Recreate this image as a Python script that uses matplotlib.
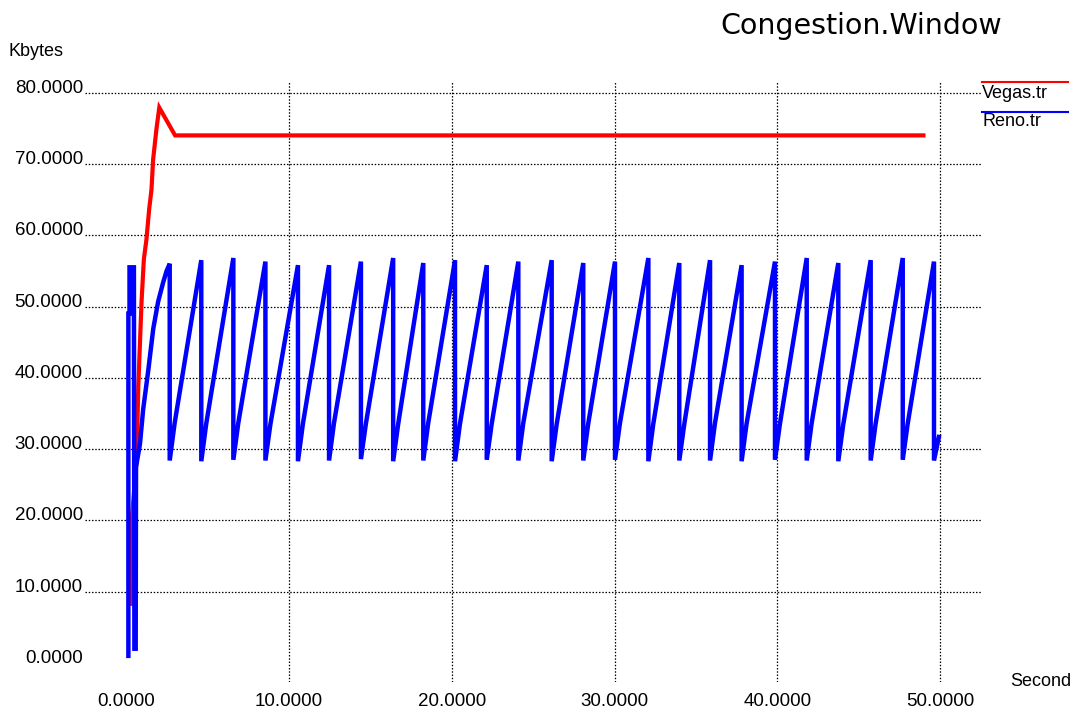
import matplotlib
matplotlib.use("Agg")
import matplotlib.pyplot as plt
import matplotlib.transforms as mtransforms

plt.rcParams['font.family'] = ['Liberation Sans', 'DejaVu Sans']

# Vegas congestion window (time s, Kbytes)
vegas_t = [0.33, 0.33, 0.64, 0.74, 0.84, 0.94, 1.08, 1.24, 1.41, 1.55, 1.65, 1.86, 2.03, 3.00, 48.98]
vegas_kb = [8.3, 20.0, 28.5, 38.8, 44.8, 50.7, 56.6, 59.4, 63.7, 66.4, 70.6, 75.0, 77.9, 74.0, 74.0]

# Reno: slow start part
reno_start_t = [0.13, 0.13, 0.20, 0.20, 0.47, 0.50, 0.58, 0.60, 0.84, 1.04, 1.35, 1.66, 1.96, 2.27, 2.48]
reno_start_kb = [1.0, 49.0, 49.0, 55.5, 55.5, 2.0, 2.0, 27.5, 30.7, 35.6, 41.0, 46.9, 50.7, 53.4, 55.0]

# Reno: sawtooth, one entry per loss event
reno_drop_t = [2.67, 4.61, 6.58, 8.55, 10.55, 12.46, 14.42, 16.40, 18.25, 20.20,
               22.15, 24.09, 26.14, 28.08, 30.03, 32.08, 33.98, 35.87, 37.81, 39.86,
               41.81, 43.75, 45.74, 47.71, 49.63]
reno_peak_kb = [56.0, 56.5, 56.8, 56.3, 55.8, 55.8, 56.3, 56.8, 56.1, 56.5,
                55.8, 56.3, 56.5, 56.1, 56.3, 56.8, 56.1, 56.5, 55.8, 56.3,
                56.8, 56.1, 56.5, 56.8, 56.3]
reno_trough_kb = [28.4, 28.3, 28.5, 28.4, 28.3, 28.4, 28.6, 28.3, 28.4, 28.3,
                  28.5, 28.4, 28.3, 28.4, 28.5, 28.3, 28.4, 28.4, 28.3, 28.5,
                  28.4, 28.3, 28.4, 28.5, 28.4]
reno_recover_kb = [33.6, 33.5, 33.6, 33.4, 33.5, 33.6, 33.5, 33.4, 33.6, 33.5,
                   33.5, 33.6, 33.4, 33.5, 33.6, 33.5, 33.4, 33.6, 33.5, 33.5,
                   33.6, 33.4, 33.5, 33.5, 31.7]
recover_lag = 0.3

x_ticks = [0, 10, 20, 30, 40, 50]
y_ticks = [0, 10, 20, 30, 40, 50, 60, 70, 80]

reno_t = list(reno_start_t)
reno_kb = list(reno_start_kb)
for i in range(len(reno_drop_t)):
    td = reno_drop_t[i]
    reno_t += [td, td, td + recover_lag]
    reno_kb += [reno_peak_kb[i], reno_trough_kb[i], reno_recover_kb[i]]

W, H = 1071, 709
fig = plt.figure(figsize=(W / 100, H / 100), dpi=100)
fig.patch.set_facecolor('white')

# axes box = extent of the dotted grid, in pixels
left, right, top, bottom = 85, 982, 81, 682
ax = fig.add_axes([left / W, 1 - bottom / H, (right - left) / W, (bottom - top) / H])
ax.set_xlim(-2.535, 52.58)
ax.set_ylim(-2.665, 81.63)
for s in ax.spines.values():
    s.set_visible(False)

grid_kw = dict(color='black', lw=0.9, linestyle=(0, (1.2, 1.4)), zorder=1)
for x in x_ticks[1:]:
    ax.axvline(x, **grid_kw)
for y in y_ticks[1:]:
    ax.axhline(y, **grid_kw)

ax.plot(vegas_t, vegas_kb, color='#ff0000', lw=3.0, zorder=3, solid_joinstyle='miter')
ax.plot(reno_t, reno_kb, color='#0000ff', lw=3.2, zorder=4, solid_joinstyle='miter')

ax.set_xticks(x_ticks)
ax.set_xticklabels(['%.4f' % v for v in x_ticks])
ax.set_yticks(y_ticks)
ax.set_yticklabels(['%.4f' % v for v in y_ticks])
ax.tick_params(axis='both', length=0, labelsize=13.5, colors='black')
ax.tick_params(axis='x', pad=8)
ax.tick_params(axis='y', pad=1.5)
for lab in ax.get_yticklabels():
    lab.set_verticalalignment('baseline')

fig.text(720 / W, 1 - 34 / H, 'Congestion.Window', fontsize=20.5,
         family=['DejaVu Sans'], va='baseline', ha='left')
fig.text(8 / W, 1 - 51 / H, 'Kbytes', fontsize=13, va='center', ha='left')
fig.text(1010 / W, 1 - 681 / H, 'Second', fontsize=13, va='center', ha='left')

# legend, xgraph style
fig.add_artist(plt.Line2D([982 / W, 1068 / W], [1 - 82 / H, 1 - 82 / H], color='#ff0000', lw=1.5))
fig.text(982 / W, 1 - 93 / H, 'Vegas.tr', fontsize=13, va='center', ha='left')
fig.add_artist(plt.Line2D([982 / W, 1068 / W], [1 - 112 / H, 1 - 112 / H], color='#0000ff', lw=1.5))
fig.text(982 / W, 1 - 122 / H, 'Reno.tr', fontsize=13, va='center', ha='left')

fig.savefig('out.png', dpi=100, facecolor='white')
